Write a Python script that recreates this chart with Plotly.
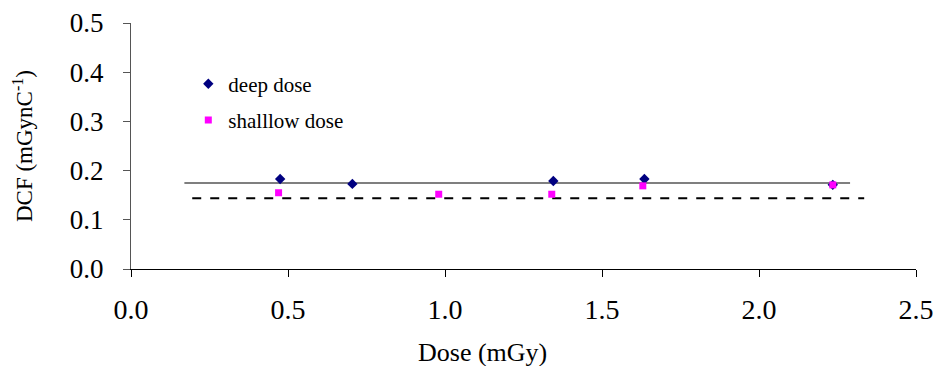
import plotly.graph_objects as go

deep_x = [0.475, 0.705, 1.345, 1.635, 2.235]
deep_y = [0.183, 0.173, 0.179, 0.183, 0.171]
shallow_x = [0.47, 0.98, 1.34, 1.63, 2.235]
shallow_y = [0.155, 0.152, 0.152, 0.169, 0.171]
deep_mean_x = [0.17, 2.29]
deep_mean_y = [0.175, 0.175]
shallow_mean_x = [0.195, 2.335]
shallow_mean_y = [0.144, 0.144]
x_ticks = [0.0, 0.5, 1.0, 1.5, 2.0, 2.5]
y_ticks = [0.0, 0.1, 0.2, 0.3, 0.4, 0.5]
x_title = "Dose (mGy)"
y_title = "DCF (mGynC<sup>-1</sup>)"

font = "Liberation Serif, Times New Roman, serif"

fig = go.Figure()
fig.add_trace(go.Scatter(x=deep_mean_x, y=deep_mean_y, mode="lines",
                         line=dict(color="#555555", width=1.5), showlegend=False, hoverinfo="skip"))
fig.add_trace(go.Scatter(x=shallow_mean_x, y=shallow_mean_y, mode="lines",
                         line=dict(color="black", width=2, dash="dash"), showlegend=False, hoverinfo="skip"))
fig.add_trace(go.Scatter(x=deep_x, y=deep_y, mode="markers", name="deep dose", legendgroup="a",
                         marker=dict(symbol="diamond", color="#000080", size=8)))
fig.add_trace(go.Scatter(x=shallow_x, y=shallow_y, mode="markers", name="shalllow dose", legendgroup="b",
                         marker=dict(symbol="square", color="#FF00FF", size=7)))

fig.update_layout(
    width=933, height=366,
    margin=dict(l=131, r=17, t=23, b=97),
    paper_bgcolor="white", plot_bgcolor="white",
    font=dict(family=font, color="black"),
    legend=dict(x=0.073, y=0.835, xanchor="left", yanchor="top",
                font=dict(size=21, family=font), bgcolor="rgba(0,0,0,0)",
                tracegroupgap=6),
    xaxis=dict(range=[0, 2.5], tickvals=x_ticks, ticktext=[f"{v:.1f}" for v in x_ticks],
               showgrid=False, zeroline=False, showline=True, linecolor="black", linewidth=1,
               ticks="outside", ticklen=7, tickcolor="black", automargin=False,
               ticklabeloverflow="allow", ticklabelstandoff=8,
               tickfont=dict(size=28, family=font)),
    yaxis=dict(range=[0, 0.5], tickvals=y_ticks, ticktext=[f"{v:.1f}" for v in y_ticks],
               showgrid=False, zeroline=False, showline=True, linecolor="#555555", linewidth=1,
               ticks="outside", ticklen=7, tickcolor="#555555", automargin=False,
               ticklabeloverflow="allow", ticklabelstandoff=14,
               tickfont=dict(size=27, family=font),
               title=dict(text=y_title, font=dict(size=23, family=font), standoff=30)),
    annotations=[dict(text=x_title, xref="paper", yref="paper", x=0.448, y=-0.339,
                      xanchor="center", yanchor="middle", showarrow=False,
                      font=dict(size=26, family=font))],
)

fig.write_html("out.html", config={"displayModeBar": False},
               post_script="document.body.style.margin='0';document.body.style.overflow='hidden';")
